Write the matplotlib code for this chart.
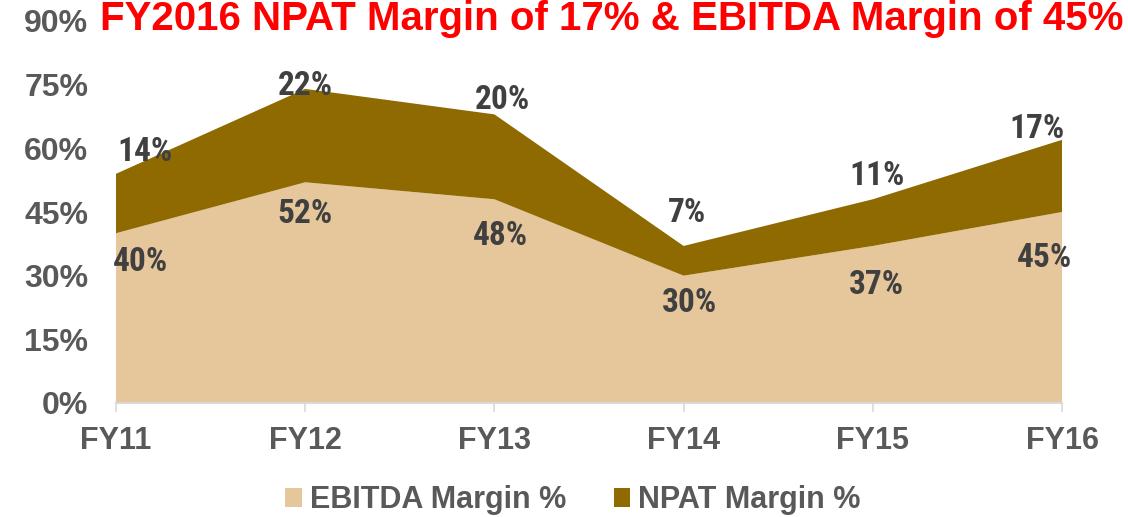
import matplotlib
matplotlib.use('Agg')
import matplotlib.pyplot as plt
import numpy as np

# Margins by financial year (%)
years = ['FY11', 'FY12', 'FY13', 'FY14', 'FY15', 'FY16']
ebitda = [40, 52, 48, 30, 37, 45]
npat = [14, 22, 20, 7, 11, 17]

# label nudges in pixels (dx, dy) as placed on the original slide
ebitda_off = [(24, -29), (0, -32), (6, -37), (6, -27), (4, -39), (-17, -46)]
npat_off = [(29, 22), (0, 3), (8, 14), (3, 33), (4, 23), (-25, 11)]

c_ebitda = '#E6C69B'
c_npat = '#8E6A00'
grey = '#595959'
narrow = ['Liberation Sans Narrow', 'Arial Narrow', 'Roboto Condensed', 'Archivo Narrow',
          'PT Sans Narrow', 'Liberation Sans', 'DejaVu Sans']
arial = ['Liberation Sans', 'DejaVu Sans']

fig = plt.figure(figsize=(11.28, 5.17), dpi=100)
ax = fig.add_axes([116 / 1128, 114 / 517, 946 / 1128, 382 / 517])

x = np.arange(len(years))
ax.stackplot(x, ebitda, npat, colors=[c_ebitda, c_npat],
             labels=['EBITDA Margin %', 'NPAT Margin %'], linewidth=0)

top = np.array(ebitda) + np.array(npat)
for i in range(len(years)):
    ax.annotate(f'{ebitda[i]}%', (x[i], ebitda[i]), xytext=ebitda_off[i],
                textcoords='offset pixels', ha='center', va='center',
                fontsize=24, fontweight='bold', color='#404040', family=narrow)
    ax.annotate(f'{npat[i]}%', (x[i], top[i]), xytext=npat_off[i],
                textcoords='offset pixels', ha='center', va='center',
                fontsize=24, fontweight='bold', color='#404040', family=narrow)

ax.set_xlim(0, len(years) - 1)
ax.set_ylim(0, 90)
ax.set_yticks(np.arange(0, 91, 15))
ax.set_yticklabels([f'{v}%' for v in range(0, 91, 15)])
ax.set_xticks(x)
ax.set_xticklabels(years)
for lab in ax.get_xticklabels():
    lab.set_family(arial)
    lab.set_fontweight('bold')
    lab.set_fontsize(22)
    lab.set_color(grey)
for lab in ax.get_yticklabels():
    lab.set_family(arial)
    lab.set_fontweight('bold')
    lab.set_fontsize(23)
    lab.set_color(grey)

for s in ['top', 'right', 'left']:
    ax.spines[s].set_visible(False)
ax.spines['bottom'].set_color('#D9D9D9')
ax.spines['bottom'].set_linewidth(1.5)
ax.tick_params(axis='y', length=0, pad=20)
ax.tick_params(axis='x', length=6.5, width=1.2, color='#D9D9D9', pad=10, direction='out')
ax.set_zorder(1)

fig.text(100 / 1128, 1.0, 'FY2016 NPAT Margin of 17% & EBITDA Margin of 45%',
         ha='left', va='top', color='#FF0000', fontsize=29, fontweight='bold', family=arial)

leg = fig.legend(loc='lower center', bbox_to_anchor=(0.508, -0.05), ncol=2, frameon=False,
                 prop={'family': arial, 'weight': 'bold', 'size': 22},
                 handlelength=0.55, handleheight=0.55, handletextpad=0.26, columnspacing=1.55)
for t in leg.get_texts():
    t.set_color(grey)

fig.savefig('out.png', dpi=100)
